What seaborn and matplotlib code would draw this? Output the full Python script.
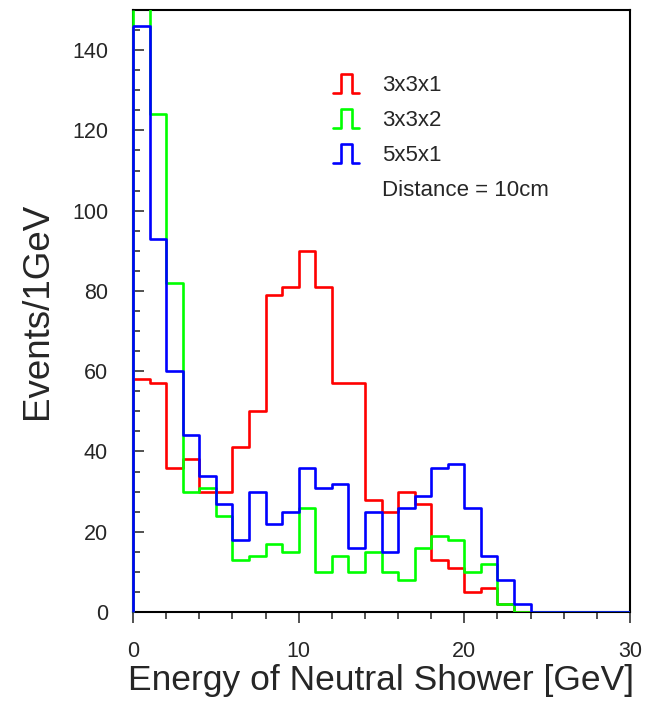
import numpy as np
import pandas as pd
import matplotlib
matplotlib.use('Agg')
import matplotlib.pyplot as plt
import seaborn as sns
from matplotlib.legend_handler import HandlerBase
from matplotlib.lines import Line2D
from matplotlib.ticker import MultipleLocator

# bins de 1 GeV entre 0 y 30
n_bins = 30
bin_range = (0, 30)
bin_centers = np.arange(0, 30) + 0.5

# eventos por bin
red_3x3x1 = [58, 57, 36, 38, 30, 30, 41, 50, 79, 81, 90, 81, 57, 57, 28,
             25, 30, 27, 13, 11, 5, 6, 2, 0, 0, 0, 0, 0, 0, 0]
green_3x3x2 = [160, 124, 82, 30, 31, 24, 13, 14, 17, 15, 26, 10, 14, 10, 15,
               10, 8, 16, 19, 18, 10, 12, 2, 0, 0, 0, 0, 0, 0, 0]
blue_5x5x1 = [146, 93, 60, 44, 34, 27, 18, 30, 22, 25, 36, 31, 32, 16, 25,
              15, 26, 29, 36, 37, 26, 14, 8, 2, 0, 0, 0, 0, 0, 0]

series_names = ['3x3x1', '3x3x2', '5x5x1']
series_counts = [red_3x3x1, green_3x3x2, blue_5x5x1]
series_colors = ['#ff0000', '#00ff00', '#0000ff']
note_text = 'Distance = 10cm'
y_max = 150
lw = 1.9


# simbolo de leyenda tipo pulso (estilo ROOT)
class PulseHandler(HandlerBase):
    def create_artists(self, legend, orig_handle, xdescent, ydescent,
                       width, height, fontsize, trans):
        x0, y0 = -xdescent, -ydescent
        xs = [x0, x0 + 0.31 * width, x0 + 0.31 * width, x0 + 0.72 * width,
              x0 + 0.72 * width, x0 + width]
        ys = [y0, y0, y0 + height, y0 + height, y0, y0]
        line = Line2D(xs, ys, color=orig_handle.get_color(),
                      lw=orig_handle.get_linewidth(), transform=trans)
        return [line]


sns.set_style('white')
plt.rcParams['font.family'] = ['Liberation Sans', 'DejaVu Sans']

fig = plt.figure(figsize=(6.68, 7.01), dpi=100)
ax = fig.add_axes([133 / 668, 1 - 612 / 701, 497 / 668, 602 / 701])

handles = []
for name, counts, color in zip(series_names, series_counts, series_colors):
    df = pd.DataFrame({'energia': bin_centers, 'eventos': counts})
    sns.histplot(data=df, x='energia', weights='eventos', bins=n_bins,
                 binrange=bin_range, element='step', fill=False, color=color,
                 linewidth=lw, ax=ax, zorder=3)
    ax.vlines(bin_range[0], 0, min(counts[0], y_max), color=color,
              linewidth=lw, zorder=3, clip_on=False)
    handles.append(Line2D([], [], color=color, lw=lw, label=name))

handles.append(Line2D([], [], color='none', lw=0, label=note_text))

ax.set_xlim(0, 30)
ax.set_ylim(0, y_max)
ax.xaxis.set_major_locator(MultipleLocator(10))
ax.xaxis.set_minor_locator(MultipleLocator(2))
ax.yaxis.set_major_locator(MultipleLocator(20))
ax.yaxis.set_minor_locator(MultipleLocator(5))
ax.tick_params(axis='x', which='both', direction='out', bottom=True, top=False,
               labelsize=15.5, pad=13, width=1.2, color='#333333')
ax.tick_params(axis='x', which='major', length=8)
ax.tick_params(axis='x', which='minor', length=5)
ax.tick_params(axis='y', which='both', direction='in', left=True, right=False,
               labelsize=15.5, pad=18, width=1.2, color='#333333')
ax.tick_params(axis='y', which='major', length=8)
ax.tick_params(axis='y', which='minor', length=5)

for s in ax.spines.values():
    s.set_visible(True)
    s.set_color('black')
    s.set_linewidth(1.5)

ax.set_xlabel('Energy of Neutral Shower [GeV]', fontsize=25.5, labelpad=1)
ax.set_ylabel('Events/1GeV', fontsize=26.5, labelpad=12)

leg = ax.legend(handles=handles, loc='upper left',
                bbox_to_anchor=(0.402, 0.894), frameon=False, fontsize=16,
                handlelength=1.2, handleheight=0.95, handletextpad=1.0,
                labelspacing=0.58, borderaxespad=0, borderpad=0,
                handler_map={Line2D: PulseHandler()})

fig.savefig('out.png', dpi=100)
